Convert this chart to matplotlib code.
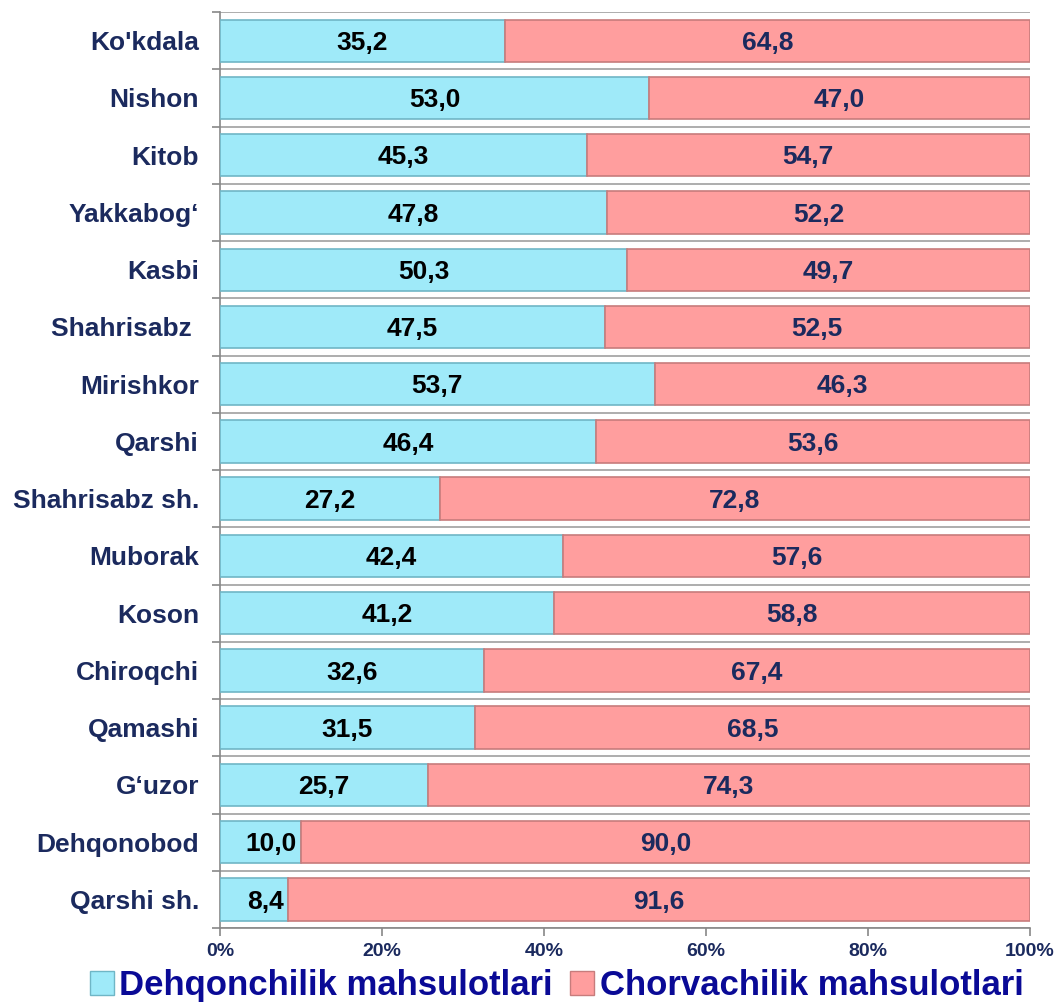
import numpy as np
import matplotlib
matplotlib.use("Agg")
import matplotlib.pyplot as plt
from matplotlib.patches import Patch

plt.rcParams['font.family'] = ['Liberation Sans', 'DejaVu Sans']
plt.rcParams['font.weight'] = 'bold'

tumanlar = ["Ko'kdala", "Nishon", "Kitob", "Yakkabog‘", "Kasbi", "Shahrisabz ",
            "Mirishkor", "Qarshi", "Shahrisabz sh.", "Muborak", "Koson",
            "Chiroqchi", "Qamashi", "G‘uzor", "Dehqonobod", "Qarshi sh."]
dehqonchilik = [35.2, 53.0, 45.3, 47.8, 50.3, 47.5, 53.7, 46.4, 27.2, 42.4,
                41.2, 32.6, 31.5, 25.7, 10.0, 8.4]
chorvachilik = [64.8, 47.0, 54.7, 52.2, 49.7, 52.5, 46.3, 53.6, 72.8, 57.6,
                58.8, 67.4, 68.5, 74.3, 90.0, 91.6]
xticks = [0, 20, 40, 60, 80, 100]
seriya_nomlari = ["Dehqonchilik mahsulotlari", "Chorvachilik mahsulotlari"]

rang_kok = "#9FEAF9"
rang_qizil = "#FF9E9E"
matn_rang = "#1B2A5E"

fig = plt.figure(figsize=(10.6, 10.06), dpi=100)
ax = fig.add_axes([0.2075, 0.0775, 0.764, 0.9105])

y = np.arange(len(tumanlar))
b1 = ax.barh(y, dehqonchilik, height=0.74, color=rang_kok,
             edgecolor="#6FB6C6", linewidth=1.2, zorder=3)
b2 = ax.barh(y, chorvachilik, left=dehqonchilik, height=0.74, color=rang_qizil,
             edgecolor="#C77C7C", linewidth=1.2, zorder=3)

for i in range(len(tumanlar)):
    d = dehqonchilik[i]
    c = chorvachilik[i]
    ax.text(d / 2 if d > 15 else d - 0.5, i + 0.04, f"{d:.1f}".replace(".", ","),
            ha="center" if d > 15 else "right", va="center",
            fontsize=19, fontweight="bold", color="black", zorder=5)
    ax.text(d + c / 2, i + 0.04, f"{c:.1f}".replace(".", ","), ha="center", va="center",
            fontsize=19, fontweight="bold", color=matn_rang, zorder=5)

ax.set_xlim(0, 100)
ax.set_ylim(len(tumanlar) - 0.5, -0.5)
ax.set_yticks(y)
ax.set_yticklabels(tumanlar, fontsize=19, fontweight="bold", color=matn_rang)
ax.set_yticks(np.arange(-0.5, len(tumanlar), 1), minor=True)
ax.tick_params(axis="y", which="major", length=0, pad=15)
ax.tick_params(axis="y", which="minor", length=6, color="#888888", width=1.2)
ax.grid(axis="y", which="minor", color="#A0A0A0", linewidth=1.2, zorder=0)
ax.set_xticks(xticks)
ax.set_xticklabels([f"{v}%" for v in xticks], fontsize=14, fontweight="bold",
                   color=matn_rang)
ax.tick_params(axis="x", length=6, color="#888888", width=1.2, pad=5)

for s in ["top", "right"]:
    ax.spines[s].set_visible(False)
for s in ["left", "bottom"]:
    ax.spines[s].set_color("#888888")
    ax.spines[s].set_linewidth(1.2)

qollar = [Patch(facecolor=rang_kok, edgecolor="#6FB6C6"),
          Patch(facecolor=rang_qizil, edgecolor="#C77C7C")]
leg = fig.legend(qollar, seriya_nomlari, loc="center", bbox_to_anchor=(0.525, 0.02),
                 ncol=2, frameon=False, handlelength=0.7, handleheight=0.7,
                 handletextpad=0.15, columnspacing=0.5,
                 prop={"size": 25, "weight": "bold"})
for t in leg.get_texts():
    t.set_color("#0A0A96")

fig.savefig("out.png", dpi=100)
